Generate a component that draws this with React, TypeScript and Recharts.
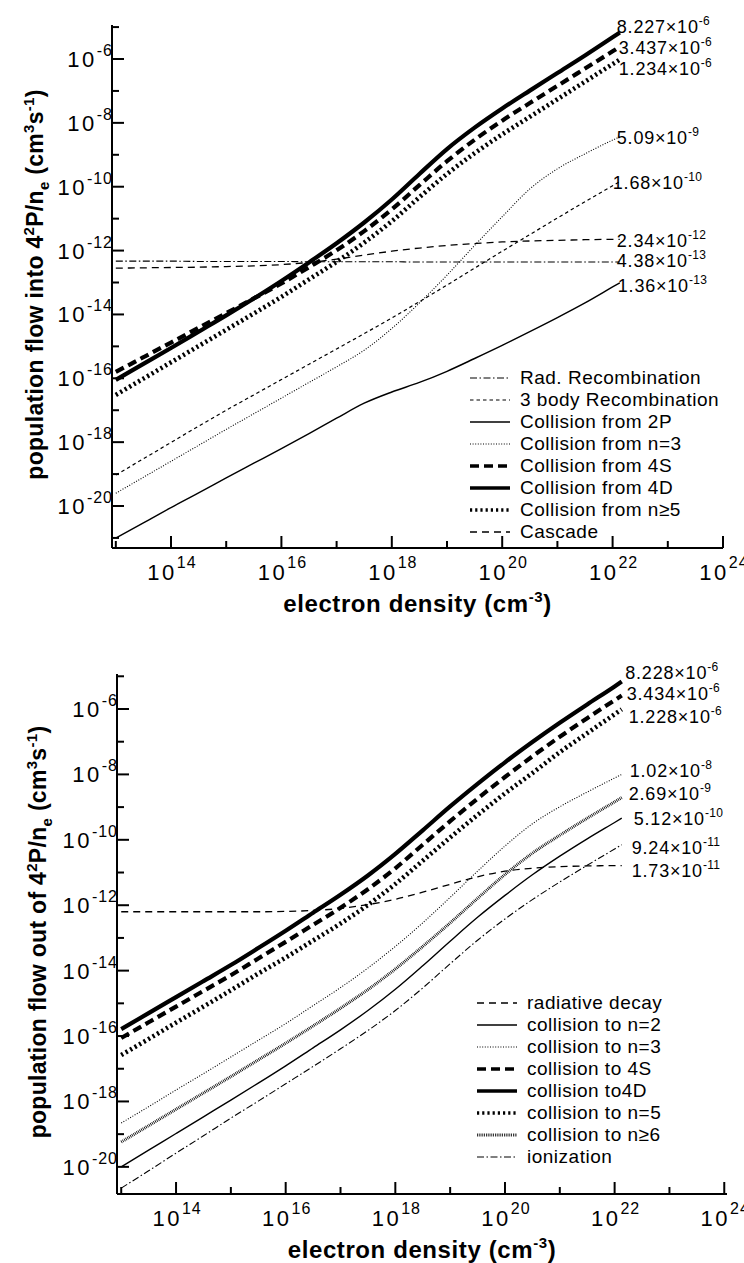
import React from 'react';
import { LineChart, Line, XAxis, YAxis, Legend, LabelList, Label } from 'recharts';

// log10 of electron density (cm^-3)
const logNe = [13, 13.5, 14, 14.5, 15, 15.5, 16, 16.5, 17, 17.5, 18, 18.5, 19, 19.5, 20, 20.5, 21, 21.5, 22, 22.13];

// (a) log10 of population flow into 4^2P / ne
const inRadRec = [-12.33, -12.33, -12.33, -12.34, -12.34, -12.34, -12.34, -12.35, -12.35, -12.35, -12.35, -12.36, -12.36, -12.36, -12.36, -12.36, -12.36, -12.36, -12.36, -12.36];
const inThreeBody = [-19.03, -18.52, -18.01, -17.5, -17.0, -16.52, -16.04, -15.56, -15.08, -14.6, -14.11, -13.6, -13.08, -12.55, -12.02, -11.5, -10.98, -10.47, -9.97, -9.84];
const in2P = [-21.0, -20.53, -20.05, -19.59, -19.12, -18.66, -18.2, -17.73, -17.25, -16.78, -16.43, -16.13, -15.78, -15.38, -14.97, -14.54, -14.1, -13.64, -13.14, -13.01];
const inN3 = [-19.6, -19.1, -18.6, -18.1, -17.6, -17.11, -16.62, -16.13, -15.64, -15.12, -14.44, -13.64, -12.77, -11.84, -10.94, -10.07, -9.44, -8.97, -8.54, -8.44];
const in4S = [-15.8, -15.34, -14.88, -14.42, -13.96, -13.5, -13.03, -12.52, -11.99, -11.39, -10.71, -9.95, -9.2, -8.53, -7.93, -7.38, -6.84, -6.3, -5.76, -5.62];
const in4D = [-16.05, -15.55, -15.05, -14.54, -14.03, -13.5, -12.95, -12.37, -11.77, -11.12, -10.4, -9.6, -8.82, -8.15, -7.55, -6.99, -6.44, -5.89, -5.32, -5.17];
const inN5 = [-16.52, -16.01, -15.5, -14.99, -14.48, -13.97, -13.45, -12.9, -12.35, -11.75, -11.08, -10.33, -9.6, -8.95, -8.36, -7.81, -7.26, -6.71, -6.16, -6.02];
const inCascade = [-12.55, -12.54, -12.53, -12.52, -12.5, -12.48, -12.44, -12.37, -12.27, -12.14, -12.02, -11.92, -11.84, -11.78, -11.73, -11.7, -11.68, -11.66, -11.65, -11.65];

// (b) log10 of population flow out of 4^2P / ne
const outRadDecay = [-12.2, -12.2, -12.2, -12.2, -12.2, -12.2, -12.19, -12.16, -12.1, -11.98, -11.82, -11.6, -11.36, -11.13, -10.96, -10.87, -10.82, -10.8, -10.79, -10.79];
const outN2 = [-20.0, -19.49, -18.98, -18.47, -17.96, -17.44, -16.91, -16.36, -15.81, -15.22, -14.57, -13.85, -13.1, -12.37, -11.7, -11.07, -10.5, -9.97, -9.47, -9.34];
const outN3 = [-18.66, -18.16, -17.65, -17.15, -16.64, -16.13, -15.62, -15.07, -14.52, -13.92, -13.26, -12.54, -11.76, -10.96, -10.19, -9.51, -8.99, -8.54, -8.11, -8.0];
const out4S = [-16.06, -15.58, -15.1, -14.62, -14.14, -13.63, -13.12, -12.6, -12.08, -11.51, -10.87, -10.15, -9.43, -8.74, -8.08, -7.45, -6.85, -6.28, -5.73, -5.59];
const out4D = [-15.79, -15.3, -14.81, -14.32, -13.83, -13.31, -12.78, -12.23, -11.68, -11.09, -10.43, -9.71, -8.98, -8.29, -7.63, -7.01, -6.42, -5.86, -5.31, -5.16];
const outN5 = [-16.58, -16.09, -15.59, -15.1, -14.6, -14.09, -13.6, -13.08, -12.56, -11.99, -11.35, -10.64, -9.93, -9.24, -8.58, -7.96, -7.32, -6.74, -6.16, -6.01];
const outN6 = [-19.24, -18.74, -18.24, -17.74, -17.24, -16.73, -16.22, -15.69, -15.15, -14.58, -13.95, -13.26, -12.54, -11.79, -11.06, -10.41, -9.86, -9.34, -8.84, -8.71];
const outIon = [-20.65, -20.12, -19.58, -19.05, -18.51, -17.99, -17.46, -16.93, -16.39, -15.83, -15.22, -14.53, -13.79, -13.07, -12.42, -11.83, -11.29, -10.78, -10.28, -10.15];

const xTicks = [13, 14, 15, 16, 17, 18, 19, 20, 21, 22, 23, 24];
const yTicksA = [-21, -20, -19, -18, -17, -16, -15, -14, -13, -12, -11, -10, -9, -8, -7, -6, -5];
const yTicksB = [-20, -19, -18, -17, -16, -15, -14, -13, -12, -11, -10, -9, -8, -7, -6, -5];

const FONT = '"Liberation Sans", Arial, Helvetica, sans-serif';

type LineStyle = { w: number; dash?: string };
const dashDot: LineStyle = { w: 1.1, dash: '7 2.5 1.5 2.5' };
const shortDash: LineStyle = { w: 1.2, dash: '3.5 3' };
const thinSolid: LineStyle = { w: 1.4 };
const fineDot: LineStyle = { w: 1.1, dash: '1 1.6' };
const thickDash: LineStyle = { w: 4.2, dash: '9 5' };
const thickSolid: LineStyle = { w: 4.2 };
const thickDot: LineStyle = { w: 4.6, dash: '2.2 3' };
const longDash: LineStyle = { w: 1.3, dash: '7 5' };
const hatch: LineStyle = { w: 3, dash: '0.8 1' };

type Series = {
  key: string;
  name: string;
  values: number[];
  style: LineStyle;
  mant: string;
  exp: string;
  dx: number;
  dy: number;
};

const seriesA: Series[] = [
  { key: 'radRec', name: 'Rad. Recombination', values: inRadRec, style: dashDot, mant: '4.38', exp: '-13', dx: -3, dy: -2 },
  { key: 'threeBody', name: '3 body Recombination', values: inThreeBody, style: shortDash, mant: '1.68', exp: '-10', dx: -7, dy: 0 },
  { key: 'from2P', name: 'Collision from 2P', values: in2P, style: thinSolid, mant: '1.36', exp: '-13', dx: -2, dy: 2 },
  { key: 'fromN3', name: 'Collision from n=3', values: inN3, style: fineDot, mant: '5.09', exp: '-9', dx: -3, dy: 0 },
  { key: 'from4S', name: 'Collision from 4S', values: in4S, style: thickDash, mant: '3.437', exp: '-6', dx: -1, dy: 0 },
  { key: 'from4D', name: 'Collision from 4D', values: in4D, style: thickSolid, mant: '8.227', exp: '-6', dx: -3, dy: -6.5 },
  { key: 'fromN5', name: 'Collision from n\u22655', values: inN5, style: thickDot, mant: '1.234', exp: '-6', dx: -1, dy: 8 },
  { key: 'cascade', name: 'Cascade', values: inCascade, style: longDash, mant: '2.34', exp: '-12', dx: -3, dy: 0.5 },
];

const seriesB: Series[] = [
  { key: 'radDecay', name: 'radiative decay', values: outRadDecay, style: longDash, mant: '1.73', exp: '-11', dx: 10, dy: 4 },
  { key: 'toN2', name: 'collision to n=2', values: outN2, style: thinSolid, mant: '5.12', exp: '-10', dx: 12, dy: 0 },
  { key: 'toN3', name: 'collision to n=3', values: outN3, style: fineDot, mant: '1.02', exp: '-8', dx: 8, dy: -4 },
  { key: 'to4S', name: 'collision to 4S', values: out4S, style: thickDash, mant: '3.434', exp: '-6', dx: 5, dy: -2.5 },
  { key: 'to4D', name: 'collision to4D', values: out4D, style: thickSolid, mant: '8.228', exp: '-6', dx: 3.5, dy: -9.5 },
  { key: 'toN5', name: 'collision to n=5', values: outN5, style: thickDot, mant: '1.228', exp: '-6', dx: 7, dy: 7 },
  { key: 'toN6', name: 'collision to n\u22656', values: outN6, style: hatch, mant: '2.69', exp: '-9', dx: 7, dy: -4.5 },
  { key: 'ionization', name: 'ionization', values: outIon, style: dashDot, mant: '9.24', exp: '-11', dx: 10, dy: 2 },
];

function buildRows(series: Series[]) {
  return logNe.map((x, i) => {
    const row: Record<string, number> = { x };
    series.forEach((s) => {
      row[s.key] = s.values[i];
    });
    return row;
  });
}

type Side = 'left' | 'right' | 'top' | 'bottom';

const makeTick = (side: Side, labelled: boolean) => (props: any) => {
  const x = Number(props.x);
  const y = Number(props.y);
  const v = Number(props.payload?.value);
  const major = Math.abs(v) % 2 === 0;
  const len = major ? 12 : 7;
  const dx = side === 'left' ? len : side === 'right' ? -len : 0;
  const dy = side === 'top' ? len : side === 'bottom' ? -len : 0;
  return (
    <g>
      <path d={`M${x},${y}L${x + dx},${y + dy}`} stroke="#000" strokeWidth={2} fill="none" />
      {labelled && major && side === 'left' && (
        <text x={x + 1} y={y + 8} textAnchor="end" fontFamily={FONT} fontSize={22} letterSpacing={2.5} fill="#000">
          10<tspan dy={-11} fontSize={16} letterSpacing={1}>{v}</tspan>
        </text>
      )}
      {labelled && major && side === 'bottom' && (
        <text x={x + 1} y={y + 32} textAnchor="middle" fontFamily={FONT} fontSize={22} letterSpacing={2.5} fill="#000">
          10<tspan dy={-12} fontSize={16} letterSpacing={1}>{v}</tspan>
        </text>
      )}
    </g>
  );
};

const endLabel = (p: any, s: Series, last: number) => {
  if (p.index !== last) return null;
  const vb = p.viewBox || p;
  const x = Number(vb.x ?? p.x) + s.dx;
  const y = Number(vb.y ?? p.y) + s.dy + 7;
  return (
    <text x={x} y={y} fontFamily={FONT} fontSize={18} letterSpacing={0.8} fill="#000">
      {s.mant}×10<tspan dy={-8} fontSize={12} letterSpacing={0.3}>{s.exp}</tspan>
    </text>
  );
};

type PanelProps = {
  series: Series[];
  width: number;
  height: number;
  margin: { top: number; right: number; bottom: number; left: number };
  yAxisWidth: number;
  xAxisHeight: number;
  xDomain: [number, number];
  yDomain: [number, number];
  yTicks: number[];
  tag: string;
  tagY: number;
  direction: string;
  yTitleX: number;
  legendPos: { left: number; top: number };
};

function legendRows(series: Series[]) {
  return (
    <div style={{ fontFamily: FONT, fontSize: 19, letterSpacing: 0.5, color: '#000' }}>
      {series.map((s) => (
        <div key={s.key} style={{ display: 'flex', alignItems: 'center', height: 22, whiteSpace: 'nowrap' }}>
          <svg width={50} height={22} style={{ flex: 'none' }}>
            <line
              x1={0}
              y1={11}
              x2={40}
              y2={11}
              stroke="#000"
              strokeWidth={Math.min(s.style.w, 3.5)}
              strokeDasharray={s.style.dash}
            />
          </svg>
          <span>{s.name}</span>
        </div>
      ))}
    </div>
  );
}

function Panel(props: PanelProps) {
  const { series, width, height, margin, yAxisWidth, xAxisHeight, xDomain, yDomain, yTicks, tag, tagY, direction, yTitleX, legendPos } = props;
  const rows = buildRows(series);
  const last = rows.length - 1;
  const axisLine = { stroke: '#000', strokeWidth: 2 };

  return (
    <LineChart width={width} height={height} data={rows} margin={margin}>
      <XAxis
        xAxisId="b"
        dataKey="x"
        type="number"
        domain={xDomain}
        ticks={xTicks}
        interval={0}
        allowDataOverflow
        height={xAxisHeight}
        axisLine={axisLine}
        tickLine={false}
        tickSize={0}
        tickMargin={0}
        tick={makeTick('bottom', true)}
      >
        <Label
          content={(p: any) => {
            const vb = p.viewBox || {};
            return (
              <text
                x={vb.x + vb.width / 2}
                y={vb.y + 64}
                textAnchor="middle"
                fontFamily={FONT}
                fontWeight="bold"
                fontSize={24}
                letterSpacing={0.6}
                fill="#000"
              >
                electron density (cm<tspan dy={-10} fontSize={15}>-3</tspan>
                <tspan dy={10}>)</tspan>
              </text>
            );
          }}
        />
      </XAxis>
      <XAxis
        xAxisId="t"
        orientation="top"
        type="number"
        domain={xDomain}
        ticks={xTicks}
        interval={0}
        allowDataOverflow
        height={0}
        axisLine={axisLine}
        tickLine={false}
        tickSize={0}
        tickMargin={0}
        tick={makeTick('top', false)}
      >
        <Label
          content={(p: any) => {
            const vb = p.viewBox || {};
            return (
              <text x={vb.x + 35} y={vb.y + tagY} fontFamily={FONT} fontSize={26} letterSpacing={4} fill="#000">
                {tag}
              </text>
            );
          }}
        />
      </XAxis>
      <YAxis
        yAxisId="l"
        type="number"
        domain={yDomain}
        ticks={yTicks}
        interval={0}
        allowDataOverflow
        width={yAxisWidth}
        axisLine={axisLine}
        tickLine={false}
        tickSize={0}
        tickMargin={0}
        tick={makeTick('left', true)}
      >
        <Label
          content={(p: any) => {
            const vb = p.viewBox || {};
            const cy = vb.y + vb.height / 2 - 2;
            return (
              <text
                x={yTitleX}
                y={cy}
                transform={`rotate(-90 ${yTitleX} ${cy})`}
                textAnchor="middle"
                fontFamily={FONT}
                fontWeight="bold"
                fontSize={23}
                letterSpacing={0.3}
                fill="#000"
              >
                population flow {direction} 4<tspan dy={-9} fontSize={15}>2</tspan>
                <tspan dy={9}>P/n</tspan>
                <tspan dy={6} fontSize={15}>e</tspan>
                <tspan dy={-6}> (cm</tspan>
                <tspan dy={-9} fontSize={15}>3</tspan>
                <tspan dy={9}>s</tspan>
                <tspan dy={-9} fontSize={15}>-1</tspan>
                <tspan dy={9}>)</tspan>
              </text>
            );
          }}
        />
      </YAxis>
      <YAxis
        yAxisId="r"
        orientation="right"
        type="number"
        domain={yDomain}
        ticks={yTicks}
        interval={0}
        allowDataOverflow
        width={0}
        axisLine={axisLine}
        tickLine={false}
        tickSize={0}
        tickMargin={0}
        tick={makeTick('right', false)}
      />
      <Legend
        layout="vertical"
        align="center"
        verticalAlign="middle"
        wrapperStyle={{ left: legendPos.left, top: legendPos.top, width: 270, height: 180 }}
        content={() => legendRows(series)}
      />
      {series.map((s) => (
        <Line
          key={s.key}
          xAxisId="b"
          yAxisId="l"
          type="monotone"
          dataKey={s.key}
          name={s.name}
          stroke="#000"
          strokeWidth={s.style.w}
          strokeDasharray={s.style.dash}
          dot={false}
          activeDot={false}
          isAnimationActive={false}
        >
          <LabelList dataKey={s.key} content={(p: any) => endLabel(p, s, last)} />
        </Line>
      ))}
    </LineChart>
  );
}

export default function App() {
  return (
    <div style={{ position: 'absolute', left: 0, top: 0, width: 744, height: 1263, background: '#fff', fontFamily: FONT }}>
      <div style={{ position: 'absolute', left: 0, top: 0 }}>
        <Panel
          series={seriesA}
          width={744}
          height={630}
          margin={{ top: 25, right: 21, bottom: 0, left: 0 }}
          yAxisWidth={112}
          xAxisHeight={82}
          xDomain={[12.931, 24]}
          yDomain={[-21.315, -4.935]}
          yTicks={yTicksA}
          tag="(a)"
          tagY={48}
          direction="into"
          yTitleX={43}
          legendPos={{ left: 470, top: 367 }}
        />
      </div>
      <div style={{ position: 'absolute', left: 0, top: 630 }}>
        <Panel
          series={seriesB}
          width={744}
          height={633}
          margin={{ top: 44, right: 17, bottom: 0, left: 0 }}
          yAxisWidth={117}
          xAxisHeight={69}
          xDomain={[12.923, 24.05]}
          yDomain={[-20.83, -4.93]}
          yTicks={yTicksB}
          tag="(b)"
          tagY={51}
          direction="out of"
          yTitleX={46}
          legendPos={{ left: 477, top: 362 }}
        />
      </div>
    </div>
  );
}
